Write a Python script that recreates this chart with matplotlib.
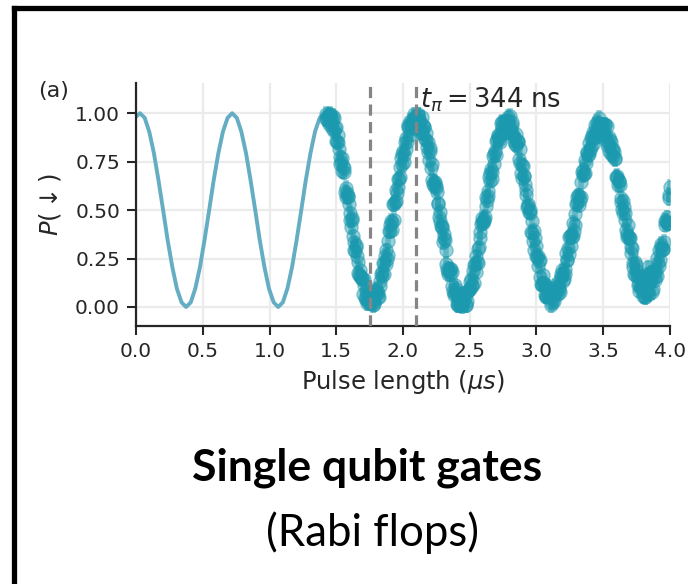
import matplotlib
matplotlib.use('Agg')
import matplotlib.pyplot as plt
from matplotlib.lines import Line2D

t_fit = [0.000, 0.030, 0.065, 0.099, 0.134, 0.168, 0.203, 0.237, 0.272, 0.306, 0.341,
         0.375, 0.410, 0.444, 0.479, 0.513, 0.548, 0.582, 0.617, 0.651, 0.686,
         0.720, 0.755, 0.789, 0.824, 0.858, 0.893, 0.927, 0.962, 0.996, 1.031,
         1.065, 1.100, 1.134, 1.169, 1.203, 1.238, 1.272, 1.307, 1.341, 1.376,
         1.410, 1.445]
p_fit = [0.982, 1.000, 0.976, 0.905, 0.794, 0.655, 0.500, 0.345, 0.206, 0.095, 0.024,
         0.000, 0.024, 0.095, 0.206, 0.345, 0.500, 0.655, 0.794, 0.905, 0.976,
         1.000, 0.976, 0.905, 0.794, 0.655, 0.500, 0.345, 0.206, 0.095, 0.024,
         0.000, 0.024, 0.095, 0.206, 0.345, 0.500, 0.655, 0.794, 0.905, 0.976,
         1.000, 0.976]

# measured points, four interleaved passes
t_a = [1.42, 1.44, 1.46, 1.48, 1.50, 1.52, 1.54, 1.56, 1.58, 1.60, 1.62, 1.64, 1.66,
       1.68, 1.70, 1.72, 1.74, 1.76, 1.78, 1.80, 1.82, 1.84, 1.86, 1.88, 1.90, 1.92,
       1.94, 1.96, 1.98, 2.00, 2.02, 2.04, 2.06, 2.08, 2.10, 2.12, 2.14, 2.16, 2.18,
       2.20, 2.22, 2.24, 2.26, 2.28, 2.30, 2.32, 2.34, 2.36, 2.38, 2.40, 2.42, 2.44,
       2.46, 2.48, 2.50, 2.52, 2.54, 2.56, 2.58, 2.60, 2.62, 2.64, 2.66, 2.68, 2.70,
       2.72, 2.74, 2.76, 2.78, 2.80, 2.82, 2.84, 2.86, 2.88, 2.90, 2.92, 2.94, 2.96,
       2.98, 3.00, 3.02, 3.04, 3.06, 3.08, 3.10, 3.12, 3.14, 3.16, 3.18, 3.20, 3.22,
       3.24, 3.26, 3.28, 3.30, 3.32, 3.34, 3.36, 3.38, 3.40, 3.42, 3.44, 3.46, 3.48,
       3.50, 3.52, 3.54, 3.56, 3.58, 3.60, 3.62, 3.64, 3.66, 3.68, 3.70, 3.72, 3.74,
       3.76, 3.78, 3.80, 3.82, 3.84, 3.86, 3.88, 3.90, 3.92, 3.94, 3.96, 3.98, 4.00]
p_a = [0.970, 0.990, 0.980, 0.906, 0.927, 0.814, 0.700, 0.697, 0.588, 0.448, 0.447,
       0.291, 0.232, 0.192, 0.067, 0.085, 0.029, 0.070, 0.028, 0.082, 0.050, 0.183,
       0.226, 0.250, 0.421, 0.437, 0.543, 0.659, 0.670, 0.804, 0.817, 0.940, 0.928,
       0.982, 0.950, 0.972, 0.898, 0.929, 0.826, 0.822, 0.657, 0.645, 0.529, 0.491,
       0.335, 0.293, 0.168, 0.194, 0.071, 0.072, 0.019, 0.030, 0.058, 0.032, 0.130,
       0.112, 0.224, 0.228, 0.388, 0.432, 0.568, 0.572, 0.712, 0.736, 0.858, 0.860,
       0.928, 0.912, 0.960, 0.932, 0.938, 0.839, 0.856, 0.741, 0.726, 0.576, 0.531,
       0.386, 0.392, 0.265, 0.236, 0.116, 0.120, 0.058, 0.082, 0.042, 0.104, 0.069,
       0.156, 0.132, 0.279, 0.272, 0.371, 0.394, 0.539, 0.573, 0.695, 0.691, 0.801,
       0.812, 0.905, 0.885, 0.944, 0.920, 0.943, 0.861, 0.876, 0.789, 0.802, 0.675,
       0.651, 0.504, 0.486, 0.359, 0.355, 0.228, 0.231, 0.114, 0.159, 0.058, 0.140,
       0.067, 0.179, 0.183, 0.160, 0.296, 0.293, 0.425, 0.431, 0.619]
t_b = [1.43, 1.45, 1.47, 1.49, 1.51, 1.53, 1.55, 1.57, 1.59, 1.61, 1.63, 1.65, 1.67,
       1.69, 1.71, 1.73, 1.75, 1.77, 1.79, 1.81, 1.83, 1.85, 1.87, 1.89, 1.91, 1.93,
       1.95, 1.97, 1.99, 2.01, 2.03, 2.05, 2.07, 2.09, 2.11, 2.13, 2.15, 2.17, 2.19,
       2.21, 2.23, 2.25, 2.27, 2.29, 2.31, 2.33, 2.35, 2.37, 2.39, 2.41, 2.43, 2.45,
       2.47, 2.49, 2.51, 2.53, 2.55, 2.57, 2.59, 2.61, 2.63, 2.65, 2.67, 2.69, 2.71,
       2.73, 2.75, 2.77, 2.79, 2.81, 2.83, 2.85, 2.87, 2.89, 2.91, 2.93, 2.95, 2.97,
       2.99, 3.01, 3.03, 3.05, 3.07, 3.09, 3.11, 3.13, 3.15, 3.17, 3.19, 3.21, 3.23,
       3.25, 3.27, 3.29, 3.31, 3.33, 3.35, 3.37, 3.39, 3.41, 3.43, 3.45, 3.47, 3.49,
       3.51, 3.53, 3.55, 3.57, 3.59, 3.61, 3.63, 3.65, 3.67, 3.69, 3.71, 3.73, 3.75,
       3.77, 3.79, 3.81, 3.83, 3.85, 3.87, 3.89, 3.91, 3.93, 3.95, 3.97, 3.99]
p_b = [0.970, 0.995, 0.924, 0.922, 0.886, 0.737, 0.729, 0.613, 0.573, 0.413, 0.334,
       0.312, 0.167, 0.145, 0.116, 0.020, 0.055, 0.024, 0.090, 0.051, 0.107, 0.225,
       0.223, 0.341, 0.444, 0.450, 0.606, 0.660, 0.787, 0.786, 0.854, 0.959, 0.920,
       0.976, 0.990, 0.900, 0.939, 0.863, 0.854, 0.715, 0.646, 0.622, 0.465, 0.418,
       0.354, 0.196, 0.196, 0.108, 0.112, 0.011, 0.010, 0.064, 0.010, 0.081, 0.146,
       0.123, 0.261, 0.308, 0.440, 0.455, 0.550, 0.692, 0.699, 0.807, 0.884, 0.849,
       0.950, 0.936, 0.980, 0.900, 0.879, 0.893, 0.764, 0.734, 0.676, 0.514, 0.499,
       0.384, 0.354, 0.211, 0.156, 0.163, 0.054, 0.070, 0.082, 0.030, 0.097, 0.098,
       0.189, 0.171, 0.241, 0.367, 0.368, 0.482, 0.576, 0.569, 0.708, 0.741, 0.847,
       0.824, 0.870, 0.955, 0.897, 0.937, 0.942, 0.834, 0.863, 0.781, 0.769, 0.628,
       0.563, 0.545, 0.398, 0.362, 0.312, 0.170, 0.188, 0.117, 0.139, 0.054, 0.164,
       0.138, 0.186, 0.137, 0.228, 0.310, 0.299, 0.443, 0.580]
t_c = [1.425, 1.445, 1.465, 1.485, 1.505, 1.525, 1.545, 1.565, 1.585, 1.605, 1.625,
       1.645, 1.665, 1.685, 1.705, 1.725, 1.745, 1.765, 1.785, 1.805, 1.825, 1.845,
       1.865, 1.885, 1.905, 1.925, 1.945, 1.965, 1.985, 2.005, 2.025, 2.045, 2.065,
       2.085, 2.105, 2.125, 2.145, 2.165, 2.185, 2.205, 2.225, 2.245, 2.265, 2.285,
       2.305, 2.325, 2.345, 2.365, 2.385, 2.405, 2.425, 2.445, 2.465, 2.485, 2.505,
       2.525, 2.545, 2.565, 2.585, 2.605, 2.625, 2.645, 2.665, 2.685, 2.705, 2.725,
       2.745, 2.765, 2.785, 2.805, 2.825, 2.845, 2.865, 2.885, 2.905, 2.925, 2.945,
       2.965, 2.985, 3.005, 3.025, 3.045, 3.065, 3.085, 3.105, 3.125, 3.145, 3.165,
       3.185, 3.205, 3.225, 3.245, 3.265, 3.285, 3.305, 3.325, 3.345, 3.365, 3.385,
       3.405, 3.425, 3.445, 3.465, 3.485, 3.505, 3.525, 3.545, 3.565, 3.585, 3.605,
       3.625, 3.645, 3.665, 3.685, 3.705, 3.725, 3.745, 3.765, 3.785, 3.805, 3.825,
       3.845, 3.865, 3.885, 3.905, 3.925, 3.945, 3.965, 3.985]
p_c = [0.995, 0.945, 0.962, 0.974, 0.851, 0.776, 0.769, 0.595, 0.566, 0.485,
       0.366, 0.321, 0.175, 0.148, 0.147, 0.039, 0.020, 0.072, 0.015, 0.082,
       0.133, 0.159, 0.265, 0.270, 0.393, 0.529, 0.545, 0.619, 0.769, 0.750,
       0.870, 0.930, 0.934, 0.994, 0.928, 0.956, 0.978, 0.866, 0.800, 0.803,
       0.637, 0.614, 0.537, 0.420, 0.375, 0.224, 0.192, 0.181, 0.061, 0.016,
       0.067, 0.005, 0.044, 0.082, 0.093, 0.188, 0.183, 0.298, 0.429, 0.444,
       0.519, 0.672, 0.661, 0.792, 0.861, 0.880, 0.954, 0.904, 0.948, 0.986,
       0.888, 0.836, 0.850, 0.692, 0.676, 0.605, 0.490, 0.445, 0.293, 0.258,
       0.241, 0.115, 0.062, 0.104, 0.010, 0.065, 0.090, 0.088, 0.168, 0.146,
       0.245, 0.359, 0.359, 0.423, 0.568, 0.551, 0.682, 0.756, 0.784, 0.873,
       0.843, 0.910, 0.976, 0.908, 0.888, 0.932, 0.804, 0.815, 0.765, 0.667,
       0.632, 0.485, 0.447, 0.421, 0.278, 0.204, 0.219, 0.085, 0.114, 0.106,
       0.072, 0.123, 0.078, 0.155, 0.254, 0.243, 0.301, 0.444, 0.431]
t_d = [1.435, 1.455, 1.475, 1.495, 1.515, 1.535, 1.555, 1.575, 1.595, 1.615, 1.635,
       1.655, 1.675, 1.695, 1.715, 1.735, 1.755, 1.775, 1.795, 1.815, 1.835, 1.855,
       1.875, 1.895, 1.915, 1.935, 1.955, 1.975, 1.995, 2.015, 2.035, 2.055, 2.075,
       2.095, 2.115, 2.135, 2.155, 2.175, 2.195, 2.215, 2.235, 2.255, 2.275, 2.295,
       2.315, 2.335, 2.355, 2.375, 2.395, 2.415, 2.435, 2.455, 2.475, 2.495, 2.515,
       2.535, 2.555, 2.575, 2.595, 2.615, 2.635, 2.655, 2.675, 2.695, 2.715, 2.735,
       2.755, 2.775, 2.795, 2.815, 2.835, 2.855, 2.875, 2.895, 2.915, 2.935, 2.955,
       2.975, 2.995, 3.015, 3.035, 3.055, 3.075, 3.095, 3.115, 3.135, 3.155, 3.175,
       3.195, 3.215, 3.235, 3.255, 3.275, 3.295, 3.315, 3.335, 3.355, 3.375, 3.395,
       3.415, 3.435, 3.455, 3.475, 3.495, 3.515, 3.535, 3.555, 3.575, 3.595, 3.615,
       3.635, 3.655, 3.675, 3.695, 3.715, 3.735, 3.755, 3.775, 3.795, 3.815, 3.835,
       3.855, 3.875, 3.895, 3.915, 3.935, 3.955, 3.975, 3.995]
p_d = [0.959, 0.990, 0.985, 0.859, 0.850, 0.749, 0.718, 0.570, 0.531, 0.460,
       0.293, 0.262, 0.160, 0.151, 0.046, 0.066, 0.072, 0.010, 0.066, 0.071,
       0.170, 0.170, 0.292, 0.391, 0.396, 0.532, 0.588, 0.720, 0.736, 0.851,
       0.927, 0.889, 0.966, 0.948, 0.994, 0.914, 0.929, 0.899, 0.758, 0.736,
       0.626, 0.591, 0.443, 0.407, 0.344, 0.187, 0.170, 0.084, 0.092, 0.010,
       0.042, 0.066, 0.010, 0.091, 0.109, 0.219, 0.230, 0.358, 0.461, 0.467,
       0.601, 0.652, 0.778, 0.783, 0.887, 0.949, 0.896, 0.958, 0.924, 0.954,
       0.859, 0.859, 0.817, 0.665, 0.636, 0.522, 0.487, 0.343, 0.314, 0.263,
       0.121, 0.122, 0.056, 0.086, 0.022, 0.081, 0.123, 0.077, 0.171, 0.195,
       0.306, 0.314, 0.436, 0.530, 0.525, 0.647, 0.685, 0.796, 0.789, 0.884,
       0.938, 0.879, 0.939, 0.905, 0.937, 0.845, 0.851, 0.816, 0.672, 0.650,
       0.543, 0.516, 0.378, 0.354, 0.305, 0.165, 0.166, 0.098, 0.123, 0.052,
       0.205, 0.144, 0.095, 0.188, 0.212, 0.326, 0.337, 0.462, 0.560]
p_err = 0.04

t_start = 1.75   # dashed markers
t_pi = 0.344

x_ticks = [0.0, 0.5, 1.0, 1.5, 2.0, 2.5, 3.0, 3.5, 4.0]
y_ticks = [0.00, 0.25, 0.50, 0.75, 1.00]

fit_color = '#64adc2'
data_color = '#1b99ae'
ink = '#262626'

plt.rcParams['font.family'] = 'DejaVu Sans'
fig = plt.figure(figsize=(6.88, 5.84), dpi=100)
ax = fig.add_axes([0.1977, 0.4418, 0.7761, 0.4161])

ax.grid(True, color='#ebebeb', lw=1.6, zorder=0)
ax.set_axisbelow(True)

ax.plot(t_fit, p_fit, color=fit_color, lw=2.8, zorder=2, solid_joinstyle='round')
for tt, pp in ((t_a, p_a), (t_b, p_b), (t_c, p_c), (t_d, p_d)):
    ax.errorbar(tt, pp, yerr=p_err, fmt='o', ms=9.5, color=data_color,
                mec=data_color, alpha=0.45, elinewidth=4, capsize=0, zorder=3)

for xv in (t_start, t_start + t_pi):
    ax.axvline(xv, color='#858585', lw=2.3, ls=(0, (3.5, 2)), zorder=4)

ax.text(2.13, 1.03, r'$t_\pi = 344$ ns', fontsize=18.5, color=ink, zorder=5)

ax.set_xlim(0, 4.0)
ax.set_ylim(-0.098, 1.156)
ax.set_xticks(x_ticks)
ax.set_yticks(y_ticks)
ax.set_yticklabels(['%.2f' % v for v in y_ticks])
ax.tick_params(axis='both', direction='out', length=6.5, width=1.5,
               labelsize=14.5, colors=ink, pad=5)
for side in ('top', 'right'):
    ax.spines[side].set_visible(False)
for side in ('left', 'bottom'):
    ax.spines[side].set_linewidth(1.6)
    ax.spines[side].set_color(ink)

ax.set_xlabel(r'Pulse length ($\mu s$)', fontsize=17.5, color=ink, labelpad=5)
ax.set_ylabel(r'$P(\downarrow)$', fontsize=17.5, color=ink, labelpad=9)
fig.text(54 / 688, 1 - 91 / 584, '(a)', fontsize=16, color=ink,
         ha='center', va='center')

# caption below the panel
fig.text(367 / 688, 1 - 468 / 584, 'Single qubit gates', fontsize=32,
         fontweight='bold', family='Lato', ha='center', va='center', color='black')
fig.text(372 / 688, 1 - 533 / 584, '(Rabi flops)', fontsize=31.5,
         family='Lato', ha='center', va='center', color='black')

# black frame (only top and left edges are inside the picture)
fig.add_artist(Line2D([13.5 / 688, 13.5 / 688], [0, 1 - 7.5 / 584], color='black',
                      lw=3.8, transform=fig.transFigure, solid_capstyle='projecting'))
fig.add_artist(Line2D([13.5 / 688, 1], [1 - 7.5 / 584, 1 - 7.5 / 584], color='black',
                      lw=3.8, transform=fig.transFigure, solid_capstyle='projecting'))

fig.savefig('out.png', dpi=100)
